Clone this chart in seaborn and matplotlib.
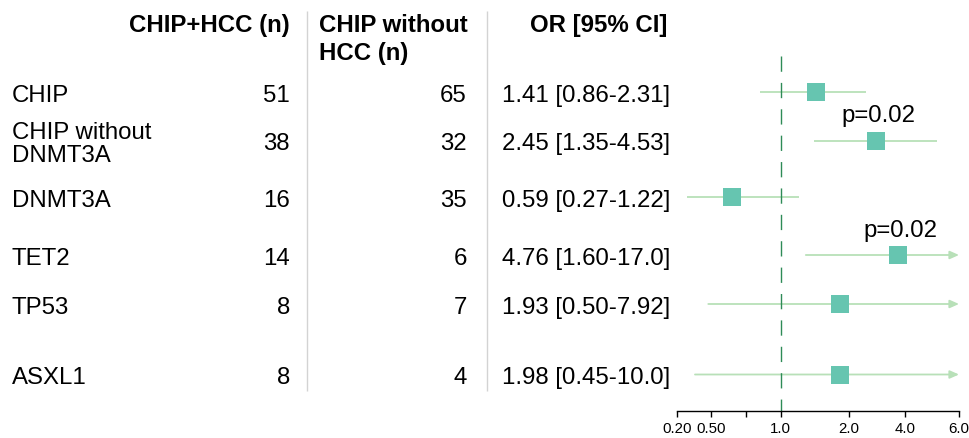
import numpy as np
import pandas as pd
import matplotlib.pyplot as plt
import seaborn as sns

# ============================================================
# DATA
# ============================================================

groups = ["CHIP", "CHIP without\nDNMT3A", "DNMT3A", "TET2", "TP53", "ASXL1"]
n_hcc = [51, 38, 16, 14, 8, 8]
n_no_hcc = [65, 32, 35, 6, 7, 4]
or_text = ["1.41 [0.86-2.31]", "2.45 [1.35-4.53]", "0.59 [0.27-1.22]",
           "4.76 [1.60-17.0]", "1.93 [0.50-7.92]", "1.98 [0.45-10.0]"]

# estimate and CI as they sit against the drawn axis
or_val = [1.43, 2.79, 0.61, 3.68, 1.82, 1.82]
ci_lo = [0.81, 1.40, 0.265, 1.29, 0.465, 0.326]
ci_hi = [2.45, 5.08, 1.20, 17.0, 7.92, 10.0]
p_txt = ["", "p=0.02", "", "p=0.02", "", ""]

headers = ["CHIP+HCC (n)", "CHIP without\nHCC (n)", "OR [95% CI]"]

tick_vals = [0.2, 0.5, 0.7, 1.0, 2.0, 4.0, 6.0]
tick_labels = ["0.20", "0.50", "", "1.0", "2.0", "4.0", "6.0"]

# ============================================================
# LAYOUT
# ============================================================

W, H = 969, 439
ROW_Y = [93, 141.5, 198, 256, 305, 375.5]
TICK_UNITS = [0, 1.0, 2.02, 3.03, 5.03, 6.66, 8.23]   # uneven axis as drawn
X_MAX = 6.0
FS = 17.3
CAP = 8.6   # half cap height in px

SQ_COL = "#66c5b0"
CI_COL = "#b8e0b8"
REF_COL = "#2e8b57"
SEP_COL = "#d3d3d3"

df = pd.DataFrame({"group": groups, "or_val": or_val, "lo": ci_lo,
                   "hi": ci_hi, "row": ROW_Y})

log_t = np.log(tick_vals)


def fwd(x):
    x = np.clip(np.asarray(x, dtype=float), 1e-6, None)
    return np.interp(np.log(x), log_t, TICK_UNITS)


def inv(u):
    return np.exp(np.interp(u, TICK_UNITS, log_t))


sns.set_theme(style="white")
plt.rcParams['font.family'] = ['Liberation Sans', 'DejaVu Sans']

fig = plt.figure(figsize=(W / 100, H / 100), dpi=100)

# table part in pixel coords
tab = fig.add_axes([0, 0, 1, 1])
tab.set_xlim(0, W)
tab.set_ylim(H, 0)
tab.axis("off")


def put(x, y, s, ha, step=23, **kw):
    for k, line in enumerate(s.split("\n")):
        tab.text(x, y + CAP + k * step, line, ha=ha, va="baseline",
                 fontsize=FS, color="black", **kw)


put(290, 23.1, headers[0], "right", weight="bold")
put(319, 23.1, headers[1], "left", step=28, weight="bold")
put(667, 23.1, headers[2], "right", weight="bold")

for i, g in enumerate(groups):
    y = ROW_Y[i]
    nl = g.count("\n")
    put(12, y - nl * 11.5, g, "left")
    put(290, y, str(n_hcc[i]), "right")
    put(467, y, str(n_no_hcc[i]), "right")
    put(502, y, or_text[i], "left")

for xs in [307.5, 487]:
    tab.vlines(xs, 12, 392, color=SEP_COL, lw=1.0)

# forest part
ax = fig.add_axes([676.7 / W, (H - 412) / H, (959 - 676.7) / W, 412 / H])
ax.set_facecolor("none")
ax.set_xscale("function", functions=(fwd, inv))
ax.set_xlim(tick_vals[0], X_MAX)
ax.set_ylim(412, 0)

ax.vlines(1.0, 57, 412, color=REF_COL, lw=1.0,
          linestyles=[(0, (11, 8))], zorder=2)

for i, r in df.iterrows():
    if r["hi"] <= X_MAX:
        ax.hlines(r["row"], r["lo"], r["hi"], color=CI_COL, lw=1.3, zorder=1)
    else:
        ax.annotate("", xy=(X_MAX, r["row"]), xytext=(r["lo"], r["row"]),
                    arrowprops=dict(arrowstyle="-|>,head_length=0.45,head_width=0.2",
                                    color=CI_COL, lw=1.3, shrinkA=0, shrinkB=0),
                    annotation_clip=False, zorder=1)

sns.scatterplot(data=df, x="or_val", y="row", marker="s", s=168,
                color=SQ_COL, linewidth=0, ax=ax, zorder=3, legend=False)

for i, p in enumerate(p_txt):
    if p:
        ax.annotate(p, xy=(or_val[i], ROW_Y[i]), xytext=(1.5, 14),
                    textcoords="offset points", ha="center", va="baseline",
                    fontsize=FS, color="black")

ax.set_xticks(tick_vals)
ax.set_xticklabels(tick_labels)
ax.minorticks_off()
ax.set_yticks([])
ax.set_xlabel("")
ax.set_ylabel("")
for s in ["top", "left", "right"]:
    ax.spines[s].set_visible(False)
ax.spines["bottom"].set_color("black")
ax.spines["bottom"].set_linewidth(1.0)
ax.tick_params(axis="x", bottom=True, length=4.5, width=1.0, color="black",
               pad=3, labelsize=10.8, labelcolor="black")

fig.savefig("out.png", dpi=100)
